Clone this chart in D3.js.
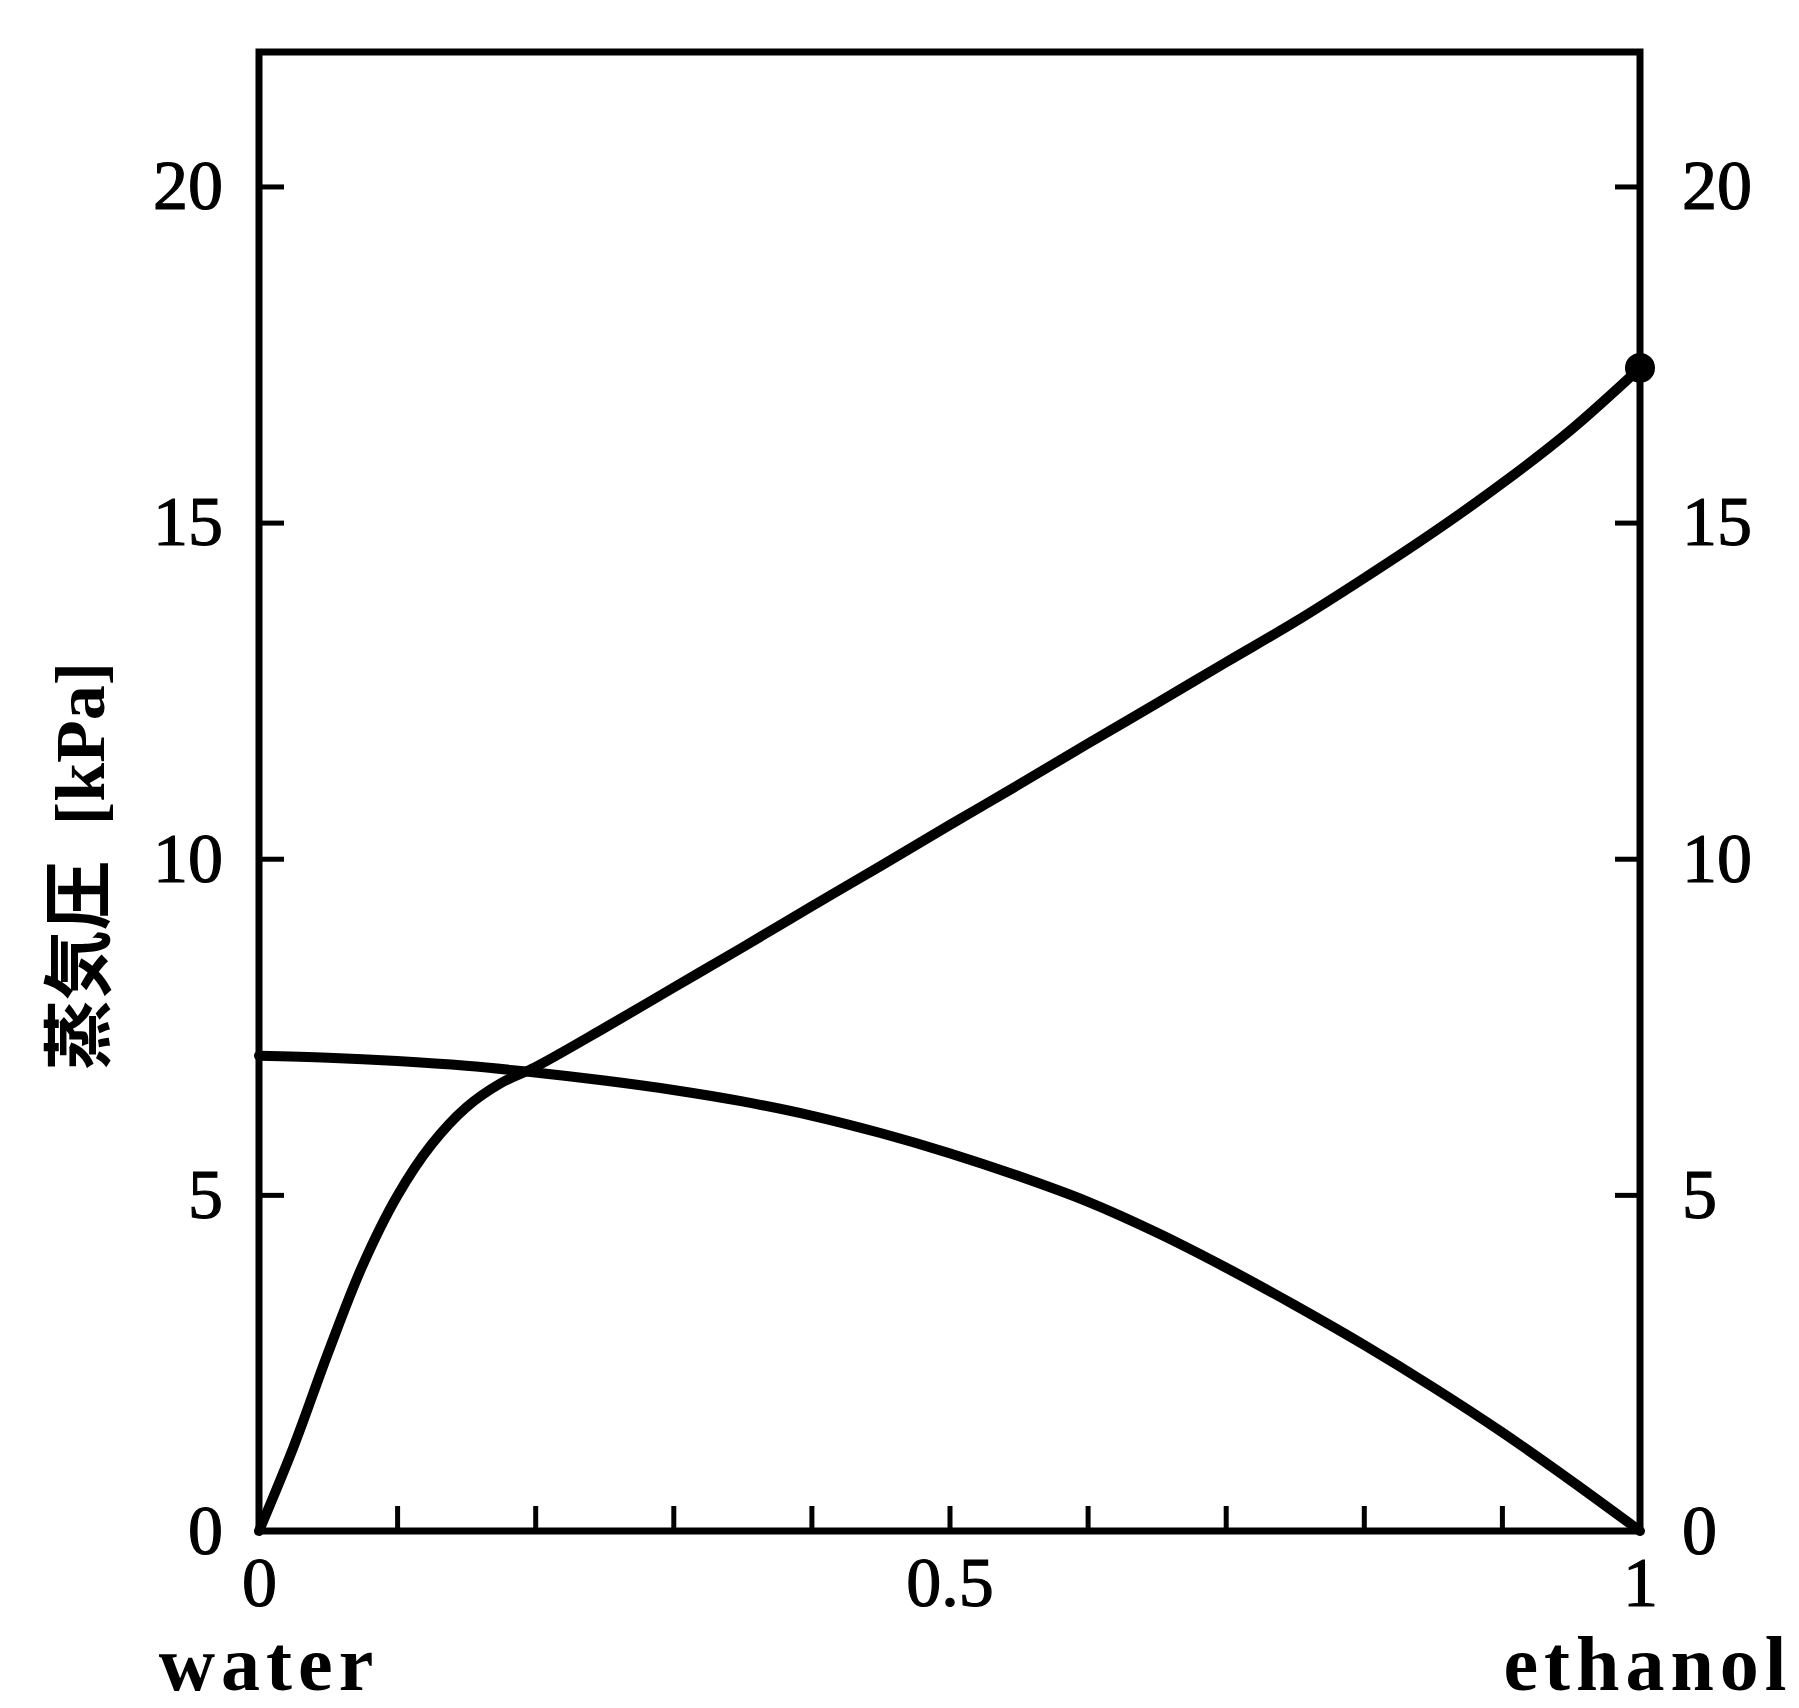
<!DOCTYPE html>
<html>
<head>
<meta charset="utf-8">
<script src="https://cdn.jsdelivr.net/npm/d3@7"></script>
<style>
  body { margin: 0; background: #fff; }
  svg { display: block; }
  .axis text { font-family: "Liberation Serif", "DejaVu Serif", serif; font-size: 70px; fill: #000; stroke: #000; stroke-width: 1.2px; }
  .axis line { stroke: #000; stroke-width: 5px; }
  .axis path { display: none; }
</style>
</head>
<body>
<svg width="1799" height="1708"></svg>
<script>
// mole fraction of ethanol (liquid)
var xEthanol = [0, 0.025, 0.05, 0.075, 0.1, 0.125, 0.15, 0.175, 0.2, 0.25, 0.3, 0.35, 0.4, 0.45, 0.5,
                0.55, 0.6, 0.65, 0.7, 0.75, 0.8, 0.85, 0.9, 0.95, 1];
// partial pressure of ethanol [kPa]
var pEthanol = [0, 1.25, 2.65, 3.95, 4.98, 5.75, 6.3, 6.66, 6.9, 7.48, 8.08, 8.68, 9.29, 9.89, 10.5,
                11.1, 11.71, 12.31, 12.92, 13.52, 14.17, 14.85, 15.58, 16.38, 17.3];

var xWater = [0, 0.05, 0.1, 0.15, 0.2, 0.25, 0.3, 0.35, 0.4, 0.45, 0.5,
              0.55, 0.6, 0.65, 0.7, 0.75, 0.8, 0.85, 0.9, 0.95, 1];
// partial pressure of water [kPa]
var pWater = [7.07, 7.04, 6.99, 6.92, 6.82, 6.7, 6.56, 6.39, 6.18, 5.92, 5.62,
              5.28, 4.9, 4.44, 3.92, 3.36, 2.77, 2.14, 1.47, 0.75, 0];

var yTicks = [0, 5, 10, 15, 20];
var xTicks = [0, 0.1, 0.2, 0.3, 0.4, 0.5, 0.6, 0.7, 0.8, 0.9, 1];
var xTickLabels = {0: "0", 0.5: "0.5", 1: "1"};

var svg = d3.select("svg"),
    margin = {top: 52, right: 159, bottom: 177, left: 259},
    width = 1799 - margin.left - margin.right,
    height = 1708 - margin.top - margin.bottom;

var x = d3.scaleLinear().domain([0, 1]).range([0, width]);
var y = d3.scaleLinear().domain([0, 22]).range([height, 0]);

var g = svg.append("g")
    .attr("transform", "translate(" + margin.left + "," + margin.top + ")");

g.append("g")
    .attr("class", "axis")
    .call(d3.axisLeft(y).tickValues(yTicks).tickSizeInner(-25).tickSizeOuter(0).tickPadding(36));

g.append("g")
    .attr("class", "axis")
    .attr("transform", "translate(" + width + ",0)")
    .call(d3.axisRight(y).tickValues(yTicks).tickSizeInner(-25).tickSizeOuter(0).tickPadding(42));

g.append("g")
    .attr("class", "axis")
    .attr("transform", "translate(0," + height + ")")
    .call(d3.axisBottom(x).tickValues(xTicks).tickSizeInner(-25).tickSizeOuter(0).tickPadding(25)
        .tickFormat(function(d) { return xTickLabels[d] || ""; }));

// frame
g.append("rect")
    .attr("x", 0)
    .attr("y", 0)
    .attr("width", width)
    .attr("height", height)
    .attr("fill", "none")
    .attr("stroke", "#000")
    .attr("stroke-width", 7);

var line = d3.line()
    .x(function(d) { return x(d[0]); })
    .y(function(d) { return y(d[1]); })
    .curve(d3.curveCatmullRom.alpha(0.5));

g.append("path")
    .datum(d3.zip(xWater, pWater))
    .attr("d", line)
    .attr("fill", "none")
    .attr("stroke", "#000")
    .attr("stroke-width", 10)
    .attr("stroke-linecap", "round");

g.append("path")
    .datum(d3.zip(xEthanol, pEthanol))
    .attr("d", line)
    .attr("fill", "none")
    .attr("stroke", "#000")
    .attr("stroke-width", 10)
    .attr("stroke-linecap", "round");

// pure ethanol point
g.append("circle")
    .attr("cx", x(1))
    .attr("cy", y(pEthanol[pEthanol.length - 1]))
    .attr("r", 15)
    .attr("fill", "#000");

// end labels
g.append("text")
    .attr("x", x(0) + 10)
    .attr("y", height + 159)
    .attr("text-anchor", "middle")
    .style("font-family", "'Liberation Serif', serif")
    .style("font-weight", "bold")
    .style("font-size", "78px")
    .style("letter-spacing", "6px")
    .text("water");

g.append("text")
    .attr("x", x(1) + 8)
    .attr("y", height + 159)
    .attr("text-anchor", "middle")
    .style("font-family", "'Liberation Serif', serif")
    .style("font-weight", "bold")
    .style("font-size", "78px")
    .style("letter-spacing", "6px")
    .text("ethanol");

// y label
svg.append("text")
    .attr("transform", "translate(104,866) rotate(-90)")
    .attr("text-anchor", "middle")
    .style("font-family", "'Liberation Serif', 'Noto Sans CJK JP', serif")
    .style("font-weight", "bold")
    .style("font-size", "70px")
    .attr("xml:space", "preserve")
    .text("蒸気圧  [kPa]");
</script>
</body>
</html>
